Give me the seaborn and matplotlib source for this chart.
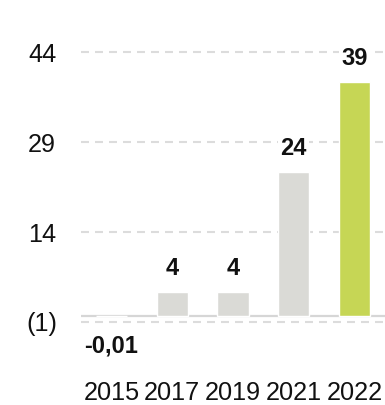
import matplotlib
matplotlib.use("Agg")
import matplotlib.pyplot as plt
import seaborn as sns
import pandas as pd

# Data
years = ["2015", "2017", "2019", "2021", "2022"]
values = [-0.01, 4, 4, 24, 39]
value_labels = ["-0,01", "4", "4", "24", "39"]
y_ticks = [-1, 14, 29, 44]
y_tick_labels = ["(1)", "14", "29", "44"]

GRAY = "#dadad6"
GREEN = "#c6d655"
GRID = "#dcdcdc"

sns.set_theme(style="white")
plt.rcParams["font.family"] = ["Liberation Sans", "DejaVu Sans"]

df = pd.DataFrame({"year": years, "value": values})
colors = [GRAY] * (len(years) - 1) + [GREEN]

fig = plt.figure(figsize=(3.85, 4.05), dpi=100)
ax = fig.add_axes([81 / 385, 1 - 352 / 405, 1 - 81 / 385, (352 - 28) / 405])

sns.barplot(data=df, x="year", y="value", hue="year", palette=colors,
            legend=False, width=0.51, ax=ax, saturation=1)

ax.set_xlim(-0.5, 4.5)
ax.set_ylim(-6, 48)
ax.set_yticks(y_ticks)
ax.set_yticklabels(y_tick_labels)
ax.set_xlabel("")
ax.set_ylabel("")

# Dashed horizontal grid and a solid zero baseline
ax.set_axisbelow(True)
ax.grid(axis="y", color=GRID, linewidth=1.5, linestyle=(0, (3.84, 2.88)))
ax.grid(axis="x", visible=False)
ax.axhline(0, color="#d6d6d6", linewidth=1.6, zorder=0.5)

for s in ax.spines.values():
    s.set_visible(False)

ax.tick_params(axis="y", length=0, pad=28, labelsize=18.2, labelcolor="#111111")
ax.tick_params(axis="x", length=0, pad=21, labelsize=18.2, labelcolor="#111111")
for lbl in ax.get_yticklabels():
    lbl.set_horizontalalignment("center")

# Value labels above (or below) each bar
for i, (v, txt) in enumerate(zip(values, value_labels)):
    if v >= 0:
        ax.annotate(txt, (i, v), xytext=(0, 8.5), textcoords="offset points",
                    ha="center", va="bottom", fontsize=17, fontweight="bold",
                    color="#111111",
                    bbox=dict(facecolor="white", edgecolor="none", pad=1.5))
    else:
        ax.annotate(txt, (i, 0), xytext=(0, -13), textcoords="offset points",
                    ha="center", va="top", fontsize=17, fontweight="bold",
                    color="#111111",
                    bbox=dict(facecolor="white", edgecolor="none", pad=1.5))

fig.savefig("out.png", dpi=100, facecolor="white")
